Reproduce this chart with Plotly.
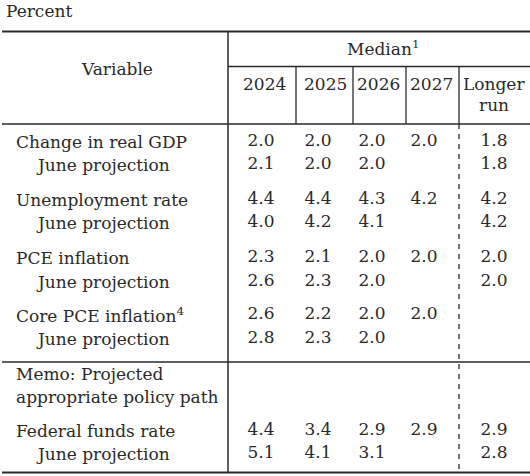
import plotly.graph_objects as go

# ---- data ----
col_labels = ["2024", "2025", "2026", "2027", "Longer<br>run"]
row_labels = ["Change in real GDP", "June projection",
              "Unemployment rate", "June projection",
              "PCE inflation", "June projection",
              "Core PCE inflation<sup>4</sup>", "June projection",
              "Memo: Projected", "appropriate policy path",
              "Federal funds rate", "June projection"]
gdp = [2.0, 2.0, 2.0, 2.0, 1.8]
gdp_june = [2.1, 2.0, 2.0, None, 1.8]
unemp = [4.4, 4.4, 4.3, 4.2, 4.2]
unemp_june = [4.0, 4.2, 4.1, None, 4.2]
pce = [2.3, 2.1, 2.0, 2.0, 2.0]
pce_june = [2.6, 2.3, 2.0, None, 2.0]
core = [2.6, 2.2, 2.0, 2.0, None]
core_june = [2.8, 2.3, 2.0, None, None]
memo1 = [None] * 5
memo2 = [None] * 5
ffr = [4.4, 3.4, 2.9, 2.9, 2.9]
ffr_june = [5.1, 4.1, 3.1, None, 2.8]
table_rows = [gdp, gdp_june, unemp, unemp_june, pce, pce_june,
              core, core_june, memo1, memo2, ffr, ffr_june]

# ---- layout geometry (pixels) ----
FONT = "DejaVu Serif"
FS = 17
TXT = "#2a2a2a"
LINE = "#2a2a2a"
W, H = 530, 476
col_x = [261, 318, 372, 424, 494]
head_x = [264, 325, 378, 431, 494]
row_y = [142, 165, 200, 223, 257.5, 281.5, 314.5, 338.5, 374, 397, 431, 454]
row_indent = [14, 34, 14, 34, 14, 34, 14, 34, 14, 14, 14, 34]

fig = go.Figure()

# values
for vals, y in zip(table_rows, row_y):
    xs = [x for x, v in zip(col_x, vals) if v is not None]
    ts = [f"{v:.1f}" for v in vals if v is not None]
    if xs:
        fig.add_trace(go.Scatter(x=xs, y=[y] * len(xs), text=ts, mode="text",
                                 textposition="middle center",
                                 textfont=dict(family=FONT, size=FS, color=TXT),
                                 hoverinfo="skip", showlegend=False))

ann = []
def add_text(x, y, t, anchor="center"):
    ann.append(dict(x=x, y=y, xref="x", yref="y", text=t, showarrow=False,
                    xanchor=anchor, yanchor="middle",
                    font=dict(family=FONT, size=FS, color=TXT)))

add_text(4, 11, "Percent", "left")
add_text(117, 69, "Variable")
add_text(383, 48, "Median<sup>1</sup>")
for x, lab in zip(head_x, col_labels):
    if "<br>" in lab:
        a, b = lab.split("<br>")
        add_text(x, 84, a)
        add_text(x, 105, b)
    else:
        add_text(x, 84, lab)
for lab, x, y in zip(row_labels, row_indent, row_y):
    add_text(x, y, lab, "left")

shapes = []
def hline(x0, x1, y, w):
    shapes.append(dict(type="line", xref="x", yref="y", x0=x0, x1=x1, y0=y, y1=y,
                       line=dict(color=LINE, width=w)))
def vline(x, y0, y1, w, dash="solid"):
    shapes.append(dict(type="line", xref="x", yref="y", x0=x, x1=x, y0=y0, y1=y1,
                       line=dict(color=LINE, width=w, dash=dash)))

hline(2, 530, 31.5, 2)
hline(228, 530, 66.5, 1.3)
hline(2, 530, 124, 1.5)
hline(2, 530, 362, 1.3)
hline(2, 530, 472.5, 2)
vline(228, 31.5, 472.5, 1.5)
for x in [296, 353, 406, 459]:
    vline(x, 66.5, 124, 1.3)
vline(459, 124, 472.5, 1.3, dash="5px,5px")

fig.update_layout(
    width=W, height=H, margin=dict(l=0, r=0, t=0, b=0),
    paper_bgcolor="white", plot_bgcolor="white",
    xaxis=dict(range=[0, W], visible=False, fixedrange=True),
    yaxis=dict(range=[H, 0], visible=False, fixedrange=True),
    annotations=ann, shapes=shapes,
)
fig.write_html("out.html", config={"displayModeBar": False},
               post_script="document.body.style.margin='0';document.body.style.overflow='hidden';")
